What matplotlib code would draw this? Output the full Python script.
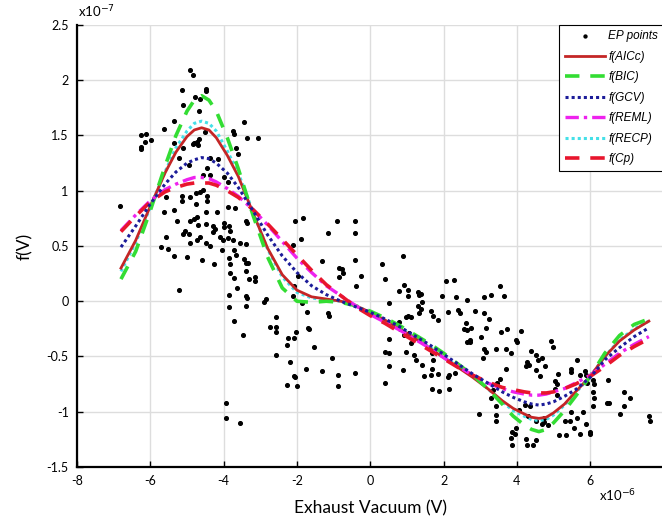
import matplotlib
matplotlib.use("Agg")
import matplotlib.pyplot as plt
import numpy as np

# EP points (x in 1e-6 V, f in 1e-7)
ep_x = [-4.91, -4.84, -5.13, -4.49, -4.49, -4.78, -4.65, -5.11, -4.67, -5.36, -5.62, -3.44,
        -6.25, -6.11, -5.97, -6.15, -6.25, -6.25, -4.51, -4.67, -4.73, -4.80, -4.69, -4.84,
        -5.36, -5.11, -3.75, -3.73, -3.35, -3.07, -3.65, -5.22, -3.60, -4.15, -4.38, -4.45,
        -4.95, -4.00, -3.89, -4.38, -4.56, -5.56, -6.82, -5.13, -5.13, -4.91, -4.75, -4.65,
        -4.45, -4.45, -4.55, -4.75, -3.87, -3.69, -5.36, -5.64, -4.49, -4.18, -4.93, -4.82,
        -4.73, -5.27, -4.69, -4.47, -4.29, -4.24, -4.29, -4.00, -3.98, -3.85, -3.82, -3.38,
        -3.35, -5.05, -4.95, -5.11, -5.58, -4.65, -4.47, -4.73, -4.91, -4.11, -4.02, -3.89,
        -3.75, -3.56, -3.38, -5.51, -5.70, -4.05, -3.73, -4.38,
        -5.36, -5.00, -4.58, -4.27, -5.22, -3.84, -3.82, -3.67, -3.45, -3.38, -3.34, -3.82,
        -3.73, -3.38, -3.31, -3.15, -3.15, -3.64, -3.84, -3.38, -3.36, -3.85, -3.38, -2.84,
        -2.89, -3.73, -3.47, -2.58, -2.73, -2.56, -2.56, -2.58, -3.93, -3.93, -3.56,
        -2.05, -1.83, -1.89, -2.12, -0.92, -1.14, -0.42, -0.42,
        -1.33, -0.42, -0.85, -0.78, -0.75, -0.85, -0.24, -0.39, 0.32, 0.90, 0.40, 0.79,
        0.93, 1.04, 1.02, 1.29, 1.34, 1.38, 1.40, 1.31, 1.38, 0.52, 2.07, 2.29, 1.96, 2.33,
        2.65, 1.34, 1.65, 1.70, 1.85, 2.13, 2.38, 2.45, 2.56, 2.64, 2.64, 2.61, 0.79, 0.97,
        1.04, 1.11, 0.81, 0.92, 1.06, 1.11, 0.97, 0.50, 0.39, 0.50, 1.20, 1.24, 1.40, 1.69,
        1.72, 1.69, 1.67, 1.85, 1.47, 0.50, 0.89, 2.11, 2.15, 2.31, 1.69, 1.87, 2.15, 0.40,
        -0.42, -0.89, -0.87, -1.33, -1.05, -1.53, -1.75, -2.09, -2.04, -2.00, -2.27, -2.25,
        -2.09, -2.27, -2.03, -2.20, -1.69, -1.66, -1.73, -1.85, -2.12, -1.16, -1.12, -1.98,
        -2.07,
        3.55, 3.09, 3.30, 3.66, 2.87, 3.09, 3.25, 2.75, 3.16, 3.57, 3.73, 4.12, 3.03, 2.71,
        2.71, 3.11, 3.15, 3.42, 3.69, 3.85, 3.07, 3.98, 4.00, 4.39, 4.53, 4.69, 4.57, 4.27,
        4.33, 4.25, 4.51, 4.64, 4.78, 4.94, 4.98, 5.11, 5.64, 5.48, 5.48, 5.71, 5.85, 5.89,
        5.05, 5.09, 5.03, 5.09, 6.07, 6.09, 6.07, 6.09, 6.07, 5.91, 3.71, 3.53, 3.45, 3.36,
        3.29, 3.44, 3.44, 3.44, 2.98, 4.07, 4.21, 4.35, 4.30, 4.53, 4.73, 4.69, 3.87, 3.94,
        3.98, 3.85, 3.87, 4.24, 4.27, 4.44, 4.53, 4.75, 4.85, 5.15, 5.35, 5.55, 5.71, 5.89,
        6.00, 6.00, 5.30, 5.44, 5.64, 5.80, 5.48, 6.48, 6.45, 6.51, 6.91, 7.09, 6.91, 6.82,
        7.60, 7.62]
ep_y = [2.09, 2.05, 1.91, 1.92, 1.90, 1.85, 1.83, 1.78, 1.72, 1.63, 1.56, 1.62,
        1.50, 1.51, 1.46, 1.44, 1.38, 1.40, 1.53, 1.47, 1.44, 1.43, 1.41, 1.42,
        1.43, 1.39, 1.54, 1.51, 1.48, 1.48, 1.39, 1.30, 1.33, 1.29, 1.30, 1.21,
        1.23, 1.12, 1.08, 1.14, 1.14, 0.94, 0.86, 0.95, 0.91, 0.94, 0.98, 0.99,
        0.95, 0.91, 1.01, 0.88, 0.85, 0.84, 0.83, 0.81, 0.81, 0.81, 0.73, 0.74,
        0.76, 0.73, 0.69, 0.70, 0.68, 0.65, 0.63, 0.71, 0.67, 0.68, 0.64, 0.73,
        0.71, 0.64, 0.61, 0.61, 0.58, 0.58, 0.53, 0.55, 0.53, 0.58, 0.55, 0.57,
        0.55, 0.53, 0.52, 0.47, 0.49, 0.46, 0.46, 0.50,
        0.41, 0.40, 0.37, 0.34, 0.10, 0.39, 0.34, 0.42, 0.38, 0.35, 0.35, 0.26,
        0.21, 0.27, 0.20, 0.22, 0.18, 0.12, 0.06, 0.05, 0.03, -0.05, -0.04, 0.02,
        -0.01, -0.18, -0.31, -0.14, -0.23, -0.23, -0.28, -0.49, -0.92, -1.06, -1.10,
        0.73, 0.75, 0.56, 0.51, 0.73, 0.62, 0.73, 0.62,
        0.36, 0.37, 0.30, 0.29, 0.26, 0.22, 0.23, 0.14, 0.34, 0.41, 0.20, 0.09,
        0.15, 0.10, 0.05, 0.08, 0.06, 0.07, -0.01, -0.04, -0.07, -0.02, 0.18, 0.19, 0.05, 0.04,
        0.01, -0.11, -0.09, -0.13, -0.17, -0.10, -0.08, -0.11, -0.25, -0.26, -0.37, -0.20, -0.19, -0.14,
        -0.13, -0.14, -0.25, -0.31, -0.29, -0.38, -0.46, -0.34, -0.46, -0.47, -0.49, -0.53, -0.58, -0.47,
        -0.53, -0.61, -0.67, -0.66, -0.68, -0.59, -0.62, -0.69, -0.67, -0.65, -0.79, -0.81, -0.79, -0.74,
        -0.65, -0.67, -0.77, -0.63, -0.51, -0.41, -0.61, -0.68, -0.69, -0.77, -0.76, -0.33,
        -0.33, -0.40, -0.28, -0.55, -0.24, -0.25, -0.10, -0.02, 0.05, -0.11, -0.13, 0.23,
        0.14,
        0.14, 0.04, 0.06, 0.05, -0.09, -0.11, -0.16, -0.24, -0.24, -0.28, -0.25, -0.27, -0.32, -0.35,
        -0.37, -0.43, -0.46, -0.43, -0.43, -0.47, -0.51, -0.35, -0.37, -0.45, -0.49, -0.51, -0.53, -0.55,
        -0.58, -0.59, -0.62, -0.68, -0.59, -0.36, -0.41, -0.66, -0.53, -0.61, -0.64, -0.67, -0.63, -0.67,
        -0.72, -0.75, -0.79, -0.85, -0.71, -0.75, -0.82, -0.88, -0.95, -0.74, -0.61, -0.70, -0.74, -0.80,
        -0.88, -0.95, -1.03, -1.08, -1.02, -0.98, -0.94, -0.95, -1.04, -1.08, -1.06, -1.11, -1.18, -1.20,
        -1.15, -1.24, -1.30, -1.25, -1.30, -1.30, -1.26, -1.09, -1.12, -1.21, -1.21, -1.15, -1.20, -1.11,
        -1.18, -1.20, -1.08, -1.08, -1.06, -1.00, -1.00, -0.71, -0.92, -0.92, -0.82, -0.88, -0.95, -1.02,
        -1.04, -1.08]

# fitted curves (denser samples around the peak and the dip)
fit_x = [-6.8, -6.4, -6.0, -5.6, -5.3, -5.0, -4.8, -4.6, -4.4, -4.2, -3.9, -3.6,
         -3.2, -2.8, -2.4, -2.0, -1.6, -1.2, -0.8, -0.4, 0.0, 0.4, 0.8, 1.2, 1.6, 2.0,
         2.4, 2.8, 3.2,
         3.6, 3.9, 4.2, 4.4, 4.6, 4.8, 5.0, 5.3, 5.6,
         6.0, 6.4, 6.8, 7.2, 7.6]
f_aicc = [0.30, 0.55, 0.86, 1.16, 1.35, 1.49, 1.55, 1.57, 1.55, 1.48, 1.32, 1.13,
          0.80, 0.48, 0.24, 0.10, 0.04, 0.02, 0.00, -0.04, -0.10, -0.17, -0.25, -0.33, -0.42, -0.51,
          -0.60, -0.69, -0.79,
          -0.90, -0.97, -1.02, -1.05, -1.06, -1.05, -1.01, -0.93, -0.82,
          -0.68, -0.50, -0.36, -0.26, -0.18]
f_bic = [0.20, 0.45, 0.82, 1.22, 1.50, 1.72, 1.82, 1.86, 1.82, 1.72, 1.48, 1.20,
         0.78, 0.40, 0.12, 0.00, -0.01, 0.00, -0.01, -0.04, -0.09, -0.15, -0.22, -0.30, -0.38, -0.47,
         -0.57, -0.67, -0.79,
         -0.93, -1.04, -1.12, -1.16, -1.18, -1.16, -1.10, -0.99, -0.86,
         -0.68, -0.47, -0.31, -0.21, -0.16]
f_gcv = [0.49, 0.68, 0.88, 1.06, 1.17, 1.25, 1.28, 1.30, 1.29, 1.25, 1.16, 1.03,
         0.82, 0.60, 0.41, 0.26, 0.14, 0.06, 0.00, -0.05, -0.10, -0.16, -0.23, -0.31, -0.39, -0.48,
         -0.57, -0.66, -0.74,
         -0.82, -0.87, -0.91, -0.93, -0.94, -0.93, -0.91, -0.86, -0.80,
         -0.69, -0.53, -0.42, -0.32, -0.24]
f_reml = [0.64, 0.78, 0.91, 1.01, 1.06, 1.10, 1.12, 1.12, 1.11, 1.08, 1.02, 0.95,
          0.83, 0.69, 0.54, 0.39, 0.26, 0.14, 0.05, -0.04, -0.12, -0.19, -0.26, -0.34, -0.42, -0.51,
          -0.59, -0.67, -0.74,
          -0.79, -0.82, -0.84, -0.85, -0.85, -0.84, -0.82, -0.79, -0.74,
          -0.67, -0.57, -0.47, -0.39, -0.32]
f_recp = [0.27, 0.53, 0.85, 1.17, 1.39, 1.54, 1.61, 1.63, 1.61, 1.54, 1.36, 1.16,
          0.81, 0.47, 0.22, 0.08, 0.03, 0.01, 0.00, -0.04, -0.10, -0.17, -0.24, -0.32, -0.41, -0.50,
          -0.59, -0.68, -0.79,
          -0.91, -0.99, -1.04, -1.07, -1.08, -1.07, -1.03, -0.94, -0.83,
          -0.68, -0.50, -0.35, -0.25, -0.18]
f_cp = [0.63, 0.77, 0.90, 0.99, 1.03, 1.06, 1.07, 1.07, 1.07, 1.05, 1.00, 0.94,
        0.83, 0.70, 0.56, 0.42, 0.28, 0.15, 0.05, -0.05, -0.13, -0.20, -0.28, -0.36, -0.44, -0.52,
        -0.60, -0.67, -0.73,
        -0.78, -0.80, -0.82, -0.83, -0.83, -0.83, -0.82, -0.79, -0.75,
        -0.68, -0.59, -0.49, -0.41, -0.34]

x_ticks = [-8, -6, -4, -2, 0, 2, 4, 6]
y_ticks = [-1.5, -1, -0.5, 0, 0.5, 1, 1.5, 2, 2.5]

fig = plt.figure(figsize=(6.62, 5.22), dpi=100)
ax = fig.add_axes([0.1163, 0.1054, 0.886, 0.8467])

ax.scatter(ep_x, ep_y, s=7, color="black", zorder=3, label="EP points")
ax.plot(fit_x, f_aicc, color="#c42626", lw=2.0, ls="-", zorder=4, label="f(AICc)")
ax.plot(fit_x, f_bic, color="#33dd33", lw=2.6, ls=(0, (4, 3)), zorder=4, label="f(BIC)")
ax.plot(fit_x, f_gcv, color="#1c1c99", lw=2.2, ls=(0, (1, 1)), zorder=5, label="f(GCV)")
ax.plot(fit_x, f_reml, color="#ee22ee", lw=2.4, ls=(0, (4, 1.5, 1, 1.5)), zorder=4, label="f(REML)")
ax.plot(fit_x, f_recp, color="#44e0e8", lw=2.2, ls=(0, (1, 1)), zorder=3.5, label="f(RECP)")
ax.plot(fit_x, f_cp, color="#e8152d", lw=2.6, ls=(0, (4, 3)), zorder=4, label="f(Cp)")

ax.set_xlim(-8, 8)
ax.set_ylim(-1.5, 2.5)
ax.set_xticks(x_ticks)
ax.set_yticks(y_ticks)
ax.set_xticklabels([str(v) for v in x_ticks])
ax.set_yticklabels([f"{v:g}" for v in y_ticks])
ax.grid(True, color="#dddddd", lw=1.0)
ax.set_axisbelow(True)
ax.tick_params(direction="in", length=4, width=1, labelsize=9, colors="black", pad=6)
for lab in ax.get_xticklabels() + ax.get_yticklabels():
    lab.set_fontfamily("Lato")
for side in ["top", "right"]:
    ax.spines[side].set_visible(False)
for side in ["left", "bottom"]:
    ax.spines[side].set_linewidth(1.6)

ax.set_xlabel("Exhaust Vacuum (V)", fontsize=12.5, fontfamily="Lato", labelpad=9)
ax.set_ylabel("f(V)", fontsize=12.5, fontfamily="Lato", labelpad=10)
fig.text(0.118, 0.962, r"x10$^{-7}$", fontsize=9.5, fontfamily="Lato", va="bottom")
fig.text(0.905, 0.035, r"x10$^{-6}$", fontsize=9.5, fontfamily="Lato", va="bottom")

leg = ax.legend(loc="upper right", bbox_to_anchor=(1.0, 1.0),
                prop={"family": "Liberation Sans", "style": "italic", "size": 8.5},
                frameon=True, fancybox=False, edgecolor="black", framealpha=1,
                borderaxespad=0, handlelength=3.4, handletextpad=0.3,
                labelspacing=0.72, borderpad=0.45, markerscale=0.8)
leg.get_frame().set_linewidth(0.8)

fig.savefig("out.png", dpi=100)
